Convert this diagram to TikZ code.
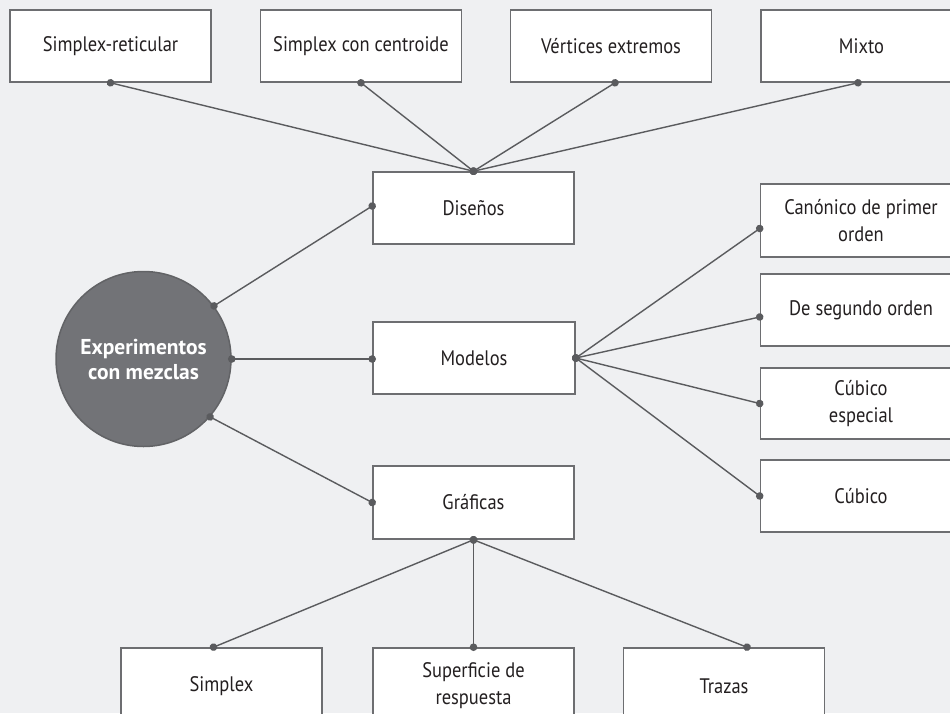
\documentclass[tikz,border=0pt]{standalone}
\usepackage{fontspec}
\setmainfont[FakeStretch=0.88]{PT Sans}
\newfontfamily\hubfont{PT Sans}
\usetikzlibrary{arrows.meta,calc}
\definecolor{bg}{HTML}{EFF0F2}
\definecolor{boxc}{HTML}{6D6E71}
\definecolor{linec}{HTML}{5A5B5E}
\definecolor{circf}{HTML}{727377}
\definecolor{circb}{HTML}{626366}
\definecolor{txt}{HTML}{231F20}
\begin{document}
\begin{tikzpicture}[x=1pt,y=-1pt,
  box/.style={draw=boxc, line width=1.6pt, fill=white, minimum width=201pt,
    minimum height=72pt, align=center, inner sep=0pt, text=txt,
    font=\fontsize{21}{27}\selectfont},
  link/.style={draw=linec, line width=1.4pt,
    {Circle[length=7.5pt]}-{Circle[length=7.5pt]}, shorten <=-3.75pt, shorten >=-3.75pt},
  hub/.style={circle, draw=circb, line width=1.5pt, fill=circf, minimum size=175pt,
    inner sep=0pt, align=center, text=white, font=\hubfont\bfseries\fontsize{21.5}{25}\selectfont}]
\path[use as bounding box, fill=bg] (0,0) rectangle (950,713);
\clip (0,0) rectangle (950,713);
% top row
\node[box] (sr) at (110.5,46) {Simplex-reticular};
\node[box] (sc) at (361,46) {Simplex con centroide};
\node[box] (ve) at (611,46) {Vértices extremos};
\node[box] (mx) at (861.5,46) {Mixto};
% middle column
\node[box] (dis) at (473.5,208) {Diseños};
\node[box, minimum width=202pt] (mod) at (474,358) {Modelos};
\node[box, minimum height=73pt] (gra) at (473.5,502.5) {Gráficas};
% hub
\node[hub] (c) at (143.5,359) {Experimentos\\con mezclas};
% right column
\node[box, minimum height=73pt] (can) at (861,220.5) {Canónico de primer\\orden};
\node[box] (seg) at (861,310) {De segundo orden};
\node[box, minimum height=71pt] (ces) at (861,403.5) {Cúbico\\especial};
\node[box] (cub) at (861,496) {Cúbico};
% bottom row
\node[box, minimum height=76pt] (sim) at (221.5,686) {Simplex};
\node[box, minimum height=76pt] (sup) at (473.5,686) {Superficie de\\respuesta};
\node[box, minimum height=76pt] (tra) at (724,686) {Trazas};
% connectors
\draw[link] (sr.south) -- (dis.north);
\draw[link] (sc.south) -- (dis.north);
\draw[link] ([xshift=4pt]ve.south) -- (dis.north);
\draw[link] ([xshift=-3.5pt]mx.south) -- (dis.north);
\draw[link] (c.37.8) -- ([yshift=2pt]dis.west);
\draw[link] (c.east) -- (c.east -| mod.west);
\draw[link] (c.-41.3) -- (gra.west);
\draw[link] (mod.east) -- ([yshift=-8pt]can.west);
\draw[link] (mod.east) -- ([yshift=-7pt]seg.west);
\draw[link] (mod.east) -- (ces.west);
\draw[link] (mod.east) -- (cub.west);
\draw[link] (gra.south) -- ([xshift=-8pt]sim.north);
\draw[link] (gra.south) -- (sup.north);
\draw[link] (gra.south) -- ([xshift=23pt]tra.north);
\end{tikzpicture}
\end{document}
